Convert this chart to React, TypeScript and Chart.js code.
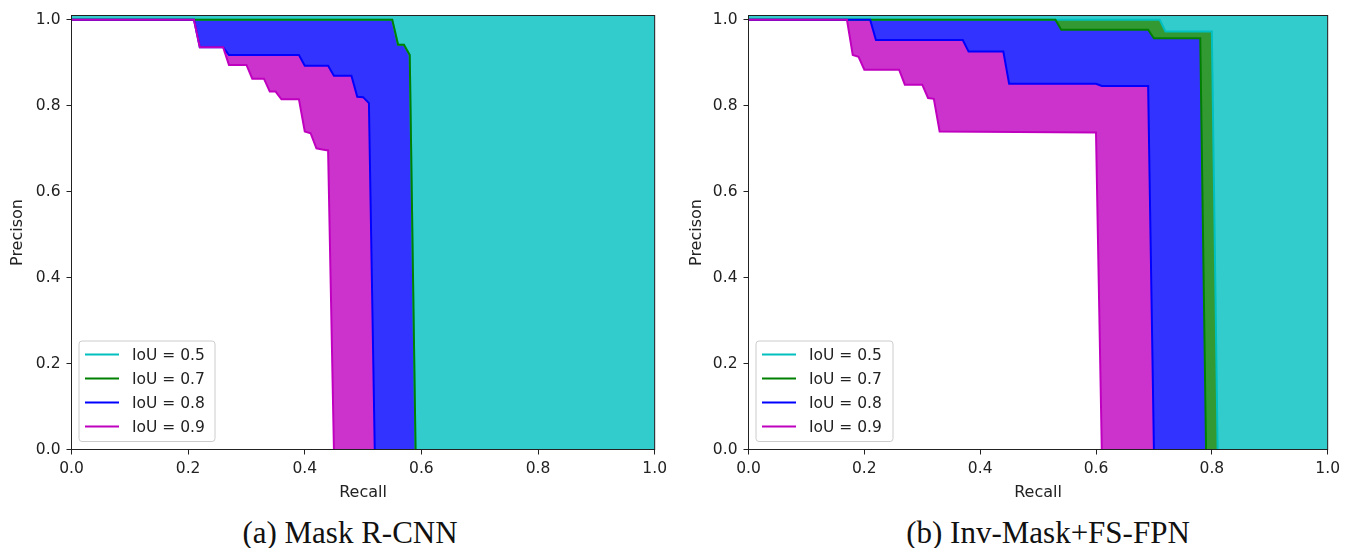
import React, { useEffect, useRef } from 'react';
import { Chart, registerables } from 'chart.js';

Chart.register(...registerables);

// ---------- shared labels / ticks / colours ----------
const iouLabels = ['IoU = 0.5', 'IoU = 0.7', 'IoU = 0.8', 'IoU = 0.9'];
const lineColors = ['#00bfbf', '#008000', '#0000ff', '#bf00bf'];
const fillColors = ['#33cccc', '#339933', '#3333ff', '#cc33cc'];
const xTicks = [0, 0.2, 0.4, 0.6, 0.8, 1.0];
const yTicks = [0, 0.2, 0.4, 0.6, 0.8, 1.0];
const xTitle = 'Recall';
const yTitle = 'Precison';

// ---------- (a) Mask R-CNN ----------
const maskRecall05 = [0, 0.55, 0.56, 0.57, 0.58, 0.59, 1.0];
const maskPrec05 = [1, 1, 0.942, 0.942, 0.918, 0, 0];
const maskRecall07 = [0, 0.55, 0.56, 0.57, 0.58, 0.59, 1.0];
const maskPrec07 = [1, 1, 0.942, 0.942, 0.918, 0, 0];
const maskRecall08 = [0, 0.21, 0.22, 0.26, 0.27, 0.39, 0.40, 0.44, 0.45, 0.48, 0.49, 0.50, 0.51, 0.52, 1.0];
const maskPrec08 = [1, 1, 0.936, 0.936, 0.918, 0.918, 0.893, 0.893, 0.870, 0.870, 0.821, 0.820, 0.806, 0, 0];
const maskRecall09 = [0, 0.21, 0.22, 0.26, 0.27, 0.30, 0.31, 0.33, 0.34, 0.35, 0.36, 0.39, 0.40, 0.41, 0.42, 0.43, 0.44, 0.45, 1.0];
const maskPrec09 = [1, 1, 0.936, 0.936, 0.895, 0.895, 0.863, 0.863, 0.833, 0.833, 0.815, 0.815, 0.740, 0.736, 0.701, 0.698, 0.696, 0, 0];

// ---------- (b) Inv-Mask+FS-FPN ----------
const invRecall05 = [0, 0.71, 0.72, 0.80, 0.81, 1.0];
const invPrec05 = [1, 1, 0.973, 0.973, 0, 0];
const invRecall07 = [0, 0.53, 0.54, 0.69, 0.70, 0.78, 0.79, 1.0];
const invPrec07 = [1, 1, 0.977, 0.977, 0.957, 0.957, 0, 0];
const invRecall08 = [0, 0.21, 0.22, 0.37, 0.38, 0.44, 0.45, 0.60, 0.61, 0.69, 0.70, 1.0];
const invPrec08 = [1, 1, 0.953, 0.953, 0.926, 0.926, 0.851, 0.851, 0.846, 0.846, 0, 0];
const invRecall09 = [0, 0.17, 0.18, 0.19, 0.20, 0.26, 0.27, 0.30, 0.31, 0.32, 0.33, 0.60, 0.61, 1.0];
const invPrec09 = [1, 1, 0.918, 0.914, 0.884, 0.884, 0.849, 0.849, 0.818, 0.816, 0.740, 0.738, 0, 0];

const captionA = '(a) Mask R-CNN';
const captionB = '(b) Inv-Mask+FS-FPN';

type Curve = { r: number[]; p: number[] };

const FONT = { family: 'DejaVu Sans', size: 15.5 };
const TEXT = '#222';

function buildDatasets(curves: Curve[]) {
  const n = curves.length;
  const toPts = (c: Curve) => c.r.map((x, k) => ({ x, y: c.p[k] }));
  const lines = curves.map((c, i) => ({
    label: iouLabels[i],
    data: toPts(c),
    borderColor: lineColors[i],
    backgroundColor: lineColors[i],
    borderWidth: 2,
    pointRadius: 0,
    fill: false,
    tension: 0,
    clip: 0,
    order: n - i,
    segment: {
      // the zero-precision tail lies on the x axis and is hidden by the spine
      borderColor: (ctx: any) =>
        ctx.p0.parsed.y === 0 && ctx.p1.parsed.y === 0 ? 'rgba(0,0,0,0)' : undefined,
    },
  }));
  const fills = curves.map((c, i) => ({
    label: iouLabels[i] + ' area',
    data: toPts(c),
    borderColor: 'rgba(0,0,0,0)',
    backgroundColor: fillColors[i],
    borderWidth: 0,
    pointRadius: 0,
    fill: 'end',
    tension: 0,
    clip: 0,
    order: n + 1 + i,
  }));
  return [...lines, ...fills];
}

const framePlugin = {
  id: 'frame',
  afterDatasetsDraw(chart: any) {
    const { ctx, chartArea: a } = chart;
    ctx.save();
    ctx.strokeStyle = '#222';
    ctx.lineWidth = 1;
    ctx.strokeRect(a.left, a.top, a.right - a.left, a.bottom - a.top);
    ctx.restore();
  },
};

function makeLegendPlugin(boxWidth: number) {
  return {
    id: 'insideLegend',
    afterDraw(chart: any) {
      const { ctx, chartArea: a } = chart;
      const left = a.left + 7.5;
      const top = a.bottom - 108.5;
      const h = 100.5;
      const r = 3;
      ctx.save();
      ctx.beginPath();
      ctx.moveTo(left + r, top);
      ctx.lineTo(left + boxWidth - r, top);
      ctx.arcTo(left + boxWidth, top, left + boxWidth, top + r, r);
      ctx.lineTo(left + boxWidth, top + h - r);
      ctx.arcTo(left + boxWidth, top + h, left + boxWidth - r, top + h, r);
      ctx.lineTo(left + r, top + h);
      ctx.arcTo(left, top + h, left, top + h - r, r);
      ctx.lineTo(left, top + r);
      ctx.arcTo(left, top, left + r, top, r);
      ctx.closePath();
      ctx.fillStyle = 'rgba(255,255,255,0.8)';
      ctx.fill();
      ctx.strokeStyle = '#cccccc';
      ctx.lineWidth = 1;
      ctx.stroke();
      const rowOffsets = [-95, -71, -47, -23];
      ctx.font = `${FONT.size}px "${FONT.family}"`;
      ctx.textBaseline = 'middle';
      ctx.textAlign = 'left';
      iouLabels.forEach((lab, i) => {
        const y = a.bottom + rowOffsets[i];
        ctx.strokeStyle = lineColors[i];
        ctx.lineWidth = 2;
        ctx.beginPath();
        ctx.moveTo(a.left + 13.5, y);
        ctx.lineTo(a.left + 47.5, y);
        ctx.stroke();
        ctx.fillStyle = TEXT;
        ctx.fillText(lab, a.left + 60.5, y + 1);
      });
      ctx.restore();
    },
  };
}

type PanelProps = {
  curves: Curve[];
  left: number;
  width: number;
  height: number;
  yAxisWidth: number;
  padRight: number;
  yTitlePad: number;
  legendWidth: number;
};

function PRPanel(props: PanelProps) {
  const ref = useRef<HTMLCanvasElement | null>(null);
  useEffect(() => {
    if (!ref.current) return;
    const chart = new Chart(ref.current, {
      type: 'line',
      data: { datasets: buildDatasets(props.curves) as any },
      options: {
        responsive: false,
        animation: false,
        devicePixelRatio: 1,
        layout: { padding: { left: 0, right: props.padRight, top: 15.5, bottom: 0 } },
        plugins: { legend: { display: false }, tooltip: { enabled: false } },
        scales: {
          x: {
            type: 'linear',
            min: 0,
            max: 1,
            afterFit: (s: any) => {
              s.height = props.height - 449.5;
            },
            afterBuildTicks: (s: any) => {
              s.ticks = xTicks.map((v) => ({ value: v }));
            },
            ticks: {
              callback: (v: any) => Number(v).toFixed(1),
              font: FONT,
              color: TEXT,
              padding: 5,
              maxRotation: 0,
              autoSkip: false,
            },
            grid: { display: true, drawOnChartArea: false, drawTicks: true, tickLength: 5, color: '#222' },
            border: { display: false },
            title: { display: true, text: xTitle, font: { family: 'DejaVu Sans', size: 16 }, color: TEXT, padding: { top: 0, bottom: 8 } },
          },
          y: {
            type: 'linear',
            min: 0,
            max: 1.01,
            afterFit: (s: any) => {
              s.width = props.yAxisWidth;
            },
            afterBuildTicks: (s: any) => {
              s.ticks = yTicks.map((v) => ({ value: v }));
            },
            ticks: {
              callback: (v: any) => Number(v).toFixed(1),
              font: FONT,
              color: TEXT,
              padding: 6,
              autoSkip: false,
            },
            grid: { display: true, drawOnChartArea: false, drawTicks: true, tickLength: 5, color: '#222' },
            border: { display: false },
            title: { display: true, text: yTitle, font: { family: 'DejaVu Sans', size: 16 }, color: TEXT, padding: { top: props.yTitlePad, bottom: 0 } },
          },
        },
      } as any,
      plugins: [framePlugin, makeLegendPlugin(props.legendWidth)],
    });
    return () => chart.destroy();
  }, []);
  return (
    <div style={{ position: 'absolute', left: props.left, top: 0, width: props.width, height: props.height }}>
      <canvas ref={ref} width={props.width} height={props.height} style={{ display: 'block', width: props.width, height: props.height }} />
    </div>
  );
}

const captionStyle: React.CSSProperties = {
  position: 'absolute',
  top: 517,
  width: 400,
  height: 31,
  lineHeight: '31px',
  fontFamily: '"Liberation Serif", "Times New Roman", serif',
  fontSize: 31,
  textAlign: 'center',
  color: '#111',
  whiteSpace: 'nowrap',
};

export default function App() {
  const curvesA: Curve[] = [
    { r: maskRecall05, p: maskPrec05 },
    { r: maskRecall07, p: maskPrec07 },
    { r: maskRecall08, p: maskPrec08 },
    { r: maskRecall09, p: maskPrec09 },
  ];
  const curvesB: Curve[] = [
    { r: invRecall05, p: invPrec05 },
    { r: invRecall07, p: invPrec07 },
    { r: invRecall08, p: invPrec08 },
    { r: invRecall09, p: invPrec09 },
  ];
  return (
    <div style={{ position: 'fixed', left: 0, top: 0, width: 1345, height: 548, background: '#fff', overflow: 'hidden' }}>
      <PRPanel curves={curvesA} left={0} width={672} height={510} yAxisWidth={71.5} padRight={16.5} yTitlePad={8} legendWidth={136} />
      <PRPanel curves={curvesB} left={672} width={673} height={510} yAxisWidth={76.5} padRight={14.5} yTitlePad={15.5} legendWidth={137} />
      <div style={{ ...captionStyle, left: 150 }}>{captionA}</div>
      <div style={{ ...captionStyle, left: 848 }}>{captionB}</div>
    </div>
  );
}
